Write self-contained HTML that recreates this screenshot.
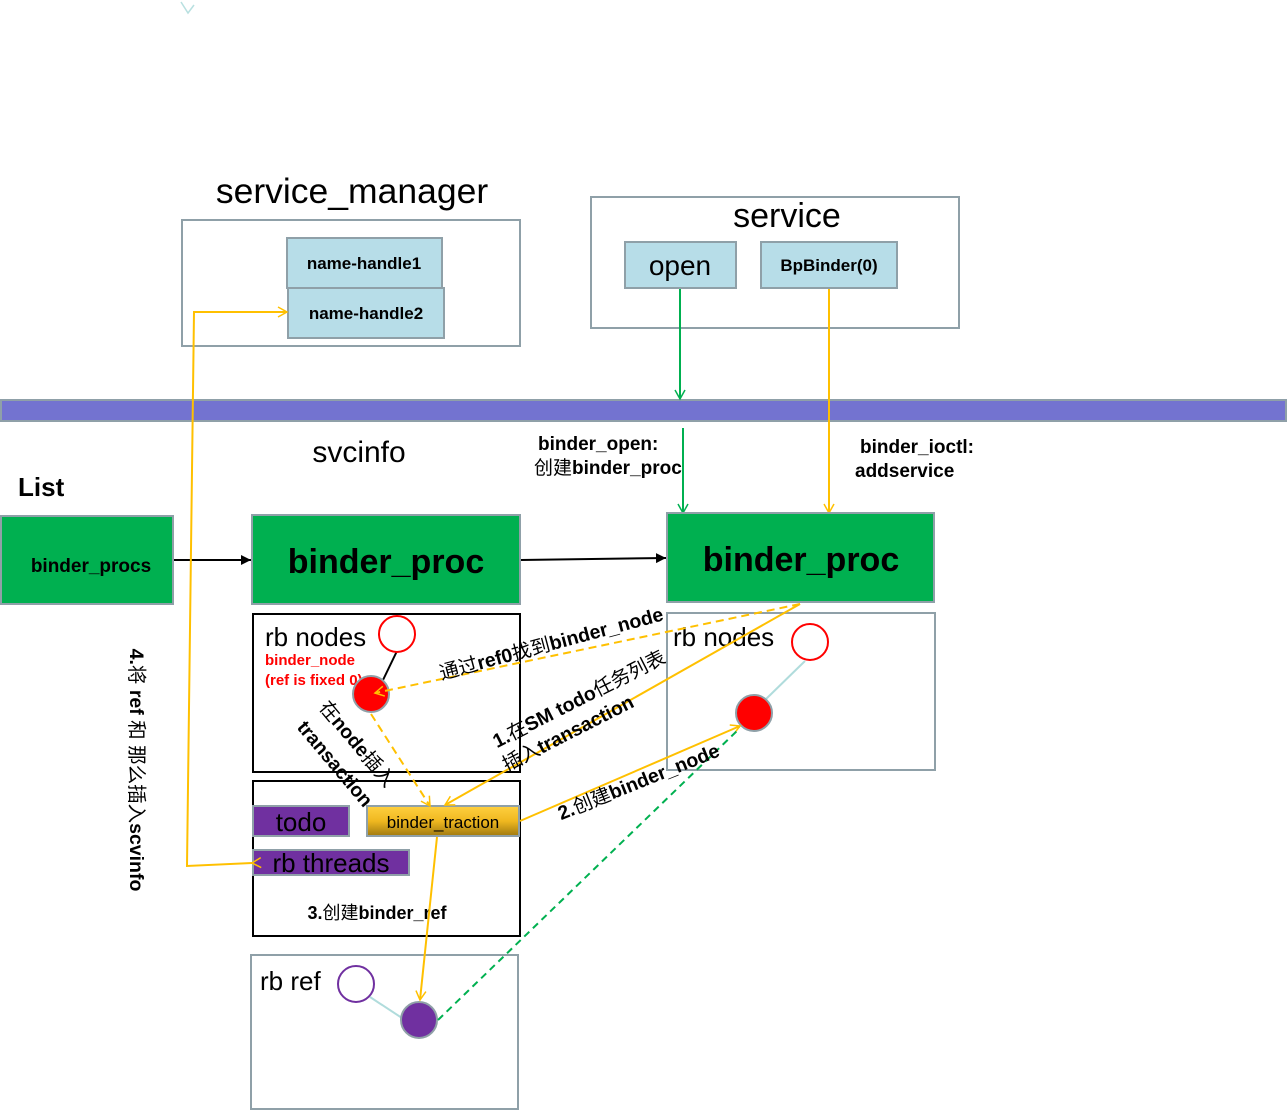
<!DOCTYPE html>
<html><head><meta charset="utf-8"><style>
body{margin:0;background:#fff}
svg{display:block;font-family:"Liberation Sans","Noto Sans CJK SC",sans-serif}
</style></head><body>
<svg width="1288" height="1111" viewBox="0 0 1288 1111" xmlns="http://www.w3.org/2000/svg">
<defs>
<marker id="ay" markerWidth="12" markerHeight="12" refX="10" refY="6" orient="auto" markerUnits="userSpaceOnUse"><path d="M1,1 L10,6 L1,11" fill="none" stroke="#ffc000" stroke-width="1.5"/></marker>
<marker id="ag" markerWidth="12" markerHeight="12" refX="10" refY="6" orient="auto" markerUnits="userSpaceOnUse"><path d="M1,1 L10,6 L1,11" fill="none" stroke="#00b050" stroke-width="1.5"/></marker>
<marker id="ak" markerWidth="12" markerHeight="12" refX="10" refY="6" orient="auto" markerUnits="userSpaceOnUse"><path d="M0,1 L10,6 L0,11 z" fill="#000"/></marker>
<linearGradient id="gold" x1="0" y1="0" x2="0" y2="1"><stop offset="0" stop-color="#ffd040"/><stop offset="0.5" stop-color="#f0b820"/><stop offset="1" stop-color="#a07a10"/></linearGradient>
</defs>
<path d="M181,2 L188,13 L194,5" fill="none" stroke="#b8e0e0" stroke-width="1.5"/>

<text x="352" y="203" font-size="35.5" text-anchor="middle">service_manager</text>
<rect x="182" y="220" width="338" height="126" fill="none" stroke="#8fa0a8" stroke-width="2"/>
<rect x="287" y="238" width="155" height="50" fill="#b7dde8" stroke="#8fa0a8" stroke-width="2"/>
<text x="364" y="269" font-size="17" font-weight="bold" text-anchor="middle">name-handle1</text>
<rect x="288" y="288" width="156" height="50" fill="#b7dde8" stroke="#8fa0a8" stroke-width="2"/>
<text x="366" y="319" font-size="17" font-weight="bold" text-anchor="middle">name-handle2</text>

<rect x="591" y="197" width="368" height="131" fill="none" stroke="#8fa0a8" stroke-width="2"/>
<text x="787" y="227" font-size="34" text-anchor="middle">service</text>
<rect x="625" y="242" width="111" height="46" fill="#b7dde8" stroke="#8fa0a8" stroke-width="2"/>
<text x="680" y="275" font-size="28" text-anchor="middle">open</text>
<rect x="761" y="242" width="136" height="46" fill="#b7dde8" stroke="#8fa0a8" stroke-width="2"/>
<text x="829" y="271" font-size="17" font-weight="bold" text-anchor="middle">BpBinder(0)</text>

<rect x="1" y="400" width="1285" height="21" fill="#7373d0" stroke="#8fa0a8" stroke-width="2"/>

<line x1="680" y1="289" x2="680" y2="399" stroke="#00b050" stroke-width="2" marker-end="url(#ag)"/>
<line x1="683" y1="428" x2="683" y2="513" stroke="#00b050" stroke-width="2" marker-end="url(#ag)"/>
<line x1="829" y1="289" x2="829" y2="513" stroke="#ffc000" stroke-width="2" marker-end="url(#ay)"/>

<text x="359" y="462" font-size="30" text-anchor="middle">svcinfo</text>
<text x="18" y="496" font-size="26" font-weight="bold">List</text>
<text x="538" y="450" font-size="19" font-weight="bold">binder_open:</text>
<text x="534" y="474" font-size="19">创建<tspan font-weight="bold">binder_proc</tspan></text>
<text x="860" y="453" font-size="19" font-weight="bold">binder_ioctl:</text>
<text x="855" y="477" font-size="19" font-weight="bold">addservice</text>

<rect x="1" y="516" width="172" height="88" fill="#00b050" stroke="#8fa0a8" stroke-width="2"/>
<text x="91" y="572" font-size="19" font-weight="bold" text-anchor="middle">binder_procs</text>
<rect x="252" y="515" width="268" height="89" fill="#00b050" stroke="#8fa0a8" stroke-width="2"/>
<text x="386" y="573" font-size="34" font-weight="bold" text-anchor="middle">binder_proc</text>
<rect x="667" y="513" width="267" height="89" fill="#00b050" stroke="#8fa0a8" stroke-width="2"/>
<text x="801" y="571" font-size="34" font-weight="bold" text-anchor="middle">binder_proc</text>
<line x1="174" y1="560" x2="251" y2="560" stroke="#000" stroke-width="2" marker-end="url(#ak)"/>
<line x1="521" y1="560" x2="666" y2="558" stroke="#000" stroke-width="2" marker-end="url(#ak)"/>

<rect x="253" y="614" width="267" height="158" fill="none" stroke="#000" stroke-width="2"/>
<text x="265" y="646" font-size="26">rb nodes</text>
<text x="265" y="665" font-size="15" font-weight="bold" fill="#f00">binder_node</text>
<text x="265" y="685" font-size="15" font-weight="bold" fill="#f00">(ref is fixed 0)</text>
<line x1="397" y1="651" x2="383" y2="680" stroke="#000" stroke-width="2"/>
<circle cx="397" cy="634" r="18" fill="#fff" stroke="#f00" stroke-width="2"/>
<circle cx="371" cy="694" r="18" fill="#f00" stroke="#8fa0a8" stroke-width="2"/>

<rect x="667" y="613" width="268" height="157" fill="none" stroke="#8fa0a8" stroke-width="2"/>
<text x="673" y="646" font-size="26">rb nodes</text>
<line x1="805" y1="661" x2="765" y2="700" stroke="#b0dcdc" stroke-width="2"/>
<circle cx="810" cy="642" r="18" fill="#fff" stroke="#f00" stroke-width="2"/>
<circle cx="754" cy="713" r="18" fill="#f00" stroke="#8fa0a8" stroke-width="2"/>

<rect x="253" y="781" width="267" height="155" fill="none" stroke="#000" stroke-width="2"/>
<rect x="253" y="806" width="96" height="30" fill="#7030a0" stroke="#8fa0a8" stroke-width="2"/>
<text x="301" y="831" font-size="26" text-anchor="middle">todo</text>
<rect x="367" y="806" width="152" height="30" fill="url(#gold)" stroke="#8fa0a8" stroke-width="2"/>
<text x="443" y="828" font-size="17" text-anchor="middle">binder_traction</text>
<rect x="253" y="850" width="156" height="25" fill="#7030a0" stroke="#8fa0a8" stroke-width="2"/>
<text x="331" y="872" font-size="26" text-anchor="middle">rb threads</text>
<text x="377" y="919" font-size="18" text-anchor="middle"><tspan font-weight="bold">3.</tspan>创建<tspan font-weight="bold">binder_ref</tspan></text>

<rect x="251" y="955" width="267" height="154" fill="none" stroke="#8fa0a8" stroke-width="2"/>
<text x="260" y="990" font-size="26">rb ref</text>
<line x1="370" y1="997" x2="405" y2="1020" stroke="#b0dcdc" stroke-width="2"/>
<circle cx="356" cy="984" r="18" fill="#fff" stroke="#7030a0" stroke-width="2"/>
<circle cx="419" cy="1020" r="18" fill="#7030a0" stroke="#8fa0a8" stroke-width="2"/>

<polyline points="252,863 187,866 194,312 287,312" fill="none" stroke="#ffc000" stroke-width="2" marker-start="url(#ay)" marker-end="url(#ay)"/>
<line x1="800" y1="604" x2="375" y2="693" stroke="#ffc000" stroke-width="2" stroke-dasharray="8,5" marker-end="url(#ay)"/>
<line x1="800" y1="604" x2="445" y2="805" stroke="#ffc000" stroke-width="2" marker-end="url(#ay)"/>
<line x1="371" y1="714" x2="430" y2="806" stroke="#ffc000" stroke-width="2" stroke-dasharray="8,5" marker-end="url(#ay)"/>
<line x1="520" y1="821" x2="740" y2="726" stroke="#ffc000" stroke-width="2" marker-end="url(#ay)"/>
<line x1="437" y1="837" x2="420" y2="1000" stroke="#ffc000" stroke-width="2" marker-end="url(#ay)"/>
<line x1="438" y1="1020" x2="740" y2="728" stroke="#00b050" stroke-width="2" stroke-dasharray="7,5"/>

<text transform="translate(553,650) rotate(-15)" font-size="19.5" text-anchor="middle">通过<tspan font-weight="bold">ref0</tspan>找到<tspan font-weight="bold">binder_node</tspan></text>
<text transform="translate(582,705) rotate(-27)" font-size="19.5" text-anchor="middle"><tspan font-weight="bold">1.</tspan>在<tspan font-weight="bold">SM todo</tspan>任务列表</text>
<text transform="translate(571,739) rotate(-27)" font-size="19.5" text-anchor="middle">插入<tspan font-weight="bold">transaction</tspan></text>
<text transform="translate(641,788) rotate(-22)" font-size="19.5" text-anchor="middle"><tspan font-weight="bold">2.</tspan>创建<tspan font-weight="bold">binder_node</tspan></text>
<text transform="translate(352,748) rotate(50)" font-size="19.5" text-anchor="middle">在<tspan font-weight="bold">node</tspan>插入</text>
<text transform="translate(330,768) rotate(50)" font-size="19.5" font-weight="bold" text-anchor="middle">transaction</text>
<text transform="translate(130,770) rotate(90)" font-size="19.5" text-anchor="middle"><tspan font-weight="bold">4.</tspan>将 <tspan font-weight="bold">ref</tspan> 和 那么插入<tspan font-weight="bold">scvinfo</tspan></text>
</svg>
</body></html>
